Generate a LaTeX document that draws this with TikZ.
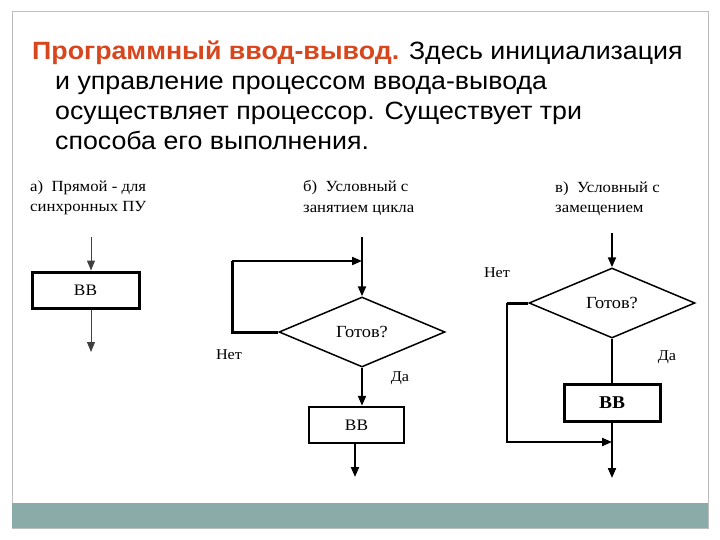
\documentclass[tikz,border=0pt]{standalone}
\usepackage{fontspec}
\setmainfont{Liberation Serif}
\newfontfamily\titlefont[FakeStretch=1.07]{Liberation Sans}
\newfontfamily\lblfont[FakeStretch=1.08]{Liberation Serif}
\usetikzlibrary{arrows.meta,shapes.geometric}
\definecolor{titlered}{RGB}{216,70,30}
\definecolor{band}{RGB}{139,171,168}
\definecolor{framegray}{RGB}{190,190,190}
\tikzset{
  ttl/.style={anchor=base west,inner sep=0pt,font=\titlefont\fontsize{25}{28}\selectfont},
  lbl/.style={anchor=west,inner sep=0pt,font=\lblfont\fontsize{15.5}{17}\selectfont},
  yn/.style={inner sep=0pt,font=\lblfont\fontsize{15}{17}\selectfont},
  bbox/.style={draw,line width=3pt,inner sep=0pt,font=\lblfont\fontsize{16}{18}\selectfont},
  dia/.style={draw,diamond,line width=1.5pt,inner sep=0pt,minimum width=166pt,minimum height=70pt,aspect=2.37,font=\lblfont\fontsize{17}{19}\selectfont},
  arr/.style={-{Triangle[length=10pt,width=8pt]}},
  conn/.style={line width=2pt},
}
\begin{document}
\begin{tikzpicture}[x=1pt,y=-1pt]
\useasboundingbox (0,0) rectangle (720,540);
\fill[white] (0,0) rectangle (720,540);
\draw[framegray,line width=1pt] (12,12) rectangle (708,528);
\fill[band] (12,503) rectangle (708,528);
% title
\node[ttl] (t1) at (32,60) {\textcolor{titlered}{\bfseries Программный ввод-вывод.} Здесь инициализация};
\node[ttl] (t2) at (55,90) {и управление процессом ввода-вывода};
\node[ttl] (t3) at (55,120) {осуществляет процессор. Существует три};
\node[ttl] (t4) at (55,150) {способа его выполнения.};
% panel a
\node[lbl] (la1) at (30,188) {а)\ \ Прямой - для};
\node[lbl] (la2) at (30,208) {синхронных ПУ};
\node[bbox,minimum width=107pt,minimum height=36pt] (abox) at (85.5,290) {ВВ};
\coordinate (ain) at (91,237);
\coordinate (aout) at (91,352);
\draw[arr,line width=1pt,black!75] (ain) -- (ain |- abox.north);
\draw[arr,line width=1pt,black!75] (ain |- abox.south) -- (aout);
% panel b
\node[lbl] (lb1) at (303,188) {б)\ \ Условный с};
\node[lbl] (lb2) at (303,210) {занятием цикла};
\node[dia] (bd) at (362,332) {Готов?};
\node[bbox,line width=2.5pt,minimum width=95pt,minimum height=36pt] (bbx) at (356.5,425) {ВВ};
\coordinate (bin) at (362,237);
\coordinate (bl) at (232,261);
\coordinate (bout) at (355,477);
\draw[arr,conn] (bd.north |- bin) -- (bd.north);
\draw[line width=3pt] (bd.west) -| (bl);
\draw[arr,conn] (bl) -- (bd.north |- bl);
\draw[arr,conn] (bd.south) -- (bd.south |- bbx.north);
\draw[arr,conn] (bout |- bbx.south) -- (bout);
\node[yn] (bno) at (229,355) {Нет};
\node[yn] (byes) at (400,378) {Да};
% panel c
\node[lbl] (lc1) at (555,189) {в)\ \ Условный с};
\node[lbl] (lc2) at (555,210) {замещением};
\node[dia] (cd) at (612,303) {Готов?};
\node[bbox,minimum width=96pt,minimum height=37pt,font=\lblfont\bfseries\fontsize{18}{20}\selectfont] (cbx) at (612,402.5) {ВВ};
\coordinate (cin) at (612,233);
\coordinate (cl) at (507,442);
\coordinate (cout) at (612,478);
\draw[arr,conn] (cd.north |- cin) -- (cd.north);
\draw[conn] (cd.south) -- (cd.south |- cbx.north);
\draw[line width=3pt] (cd.west) -- (cd.west -| cl);
\draw[arr,conn] (cd.west -| cl) -- (cl) -- (cd.south |- cl);
\draw[arr,conn] (cbx.south) -- (cd.south |- cout);
\node[yn] (cno) at (497,273) {Нет};
\node[yn] (cyes) at (667,357) {Да};
\end{tikzpicture}
\end{document}
